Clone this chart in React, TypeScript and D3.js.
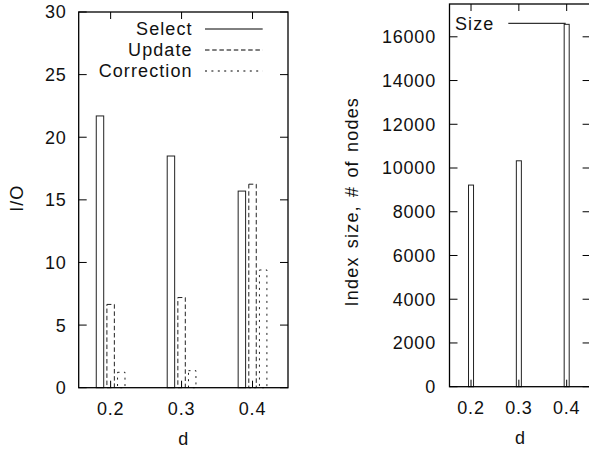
import React from "react";
import * as d3 from "d3";

const categories = [0.2, 0.3, 0.4];
const selectIO = [21.7, 18.5, 15.7];
const updateIO = [6.65, 7.2, 16.25];
const correctionIO = [1.23, 1.36, 9.4];
const indexSize = [9220, 10330, 16570];
const leftYTicks = [0, 5, 10, 15, 20, 25, 30];
const rightYTicks = [0, 2000, 4000, 6000, 8000, 10000, 12000, 14000, 16000];
const seriesNames = ["Select", "Update", "Correction"];

const FONT = "'Liberation Sans', Arial, Helvetica, sans-serif";
const FS = 18;
const LS = 1.1;
const TLS = 0.8;
const DASHES = [null, "4.5,2.7", "2,4.4"];
const INK = "#111";

function Frame({ x, y, yt, ytickFmt, xt, labelX }: any) {
  const [x0, x1] = x.range();
  const [yb, ytop] = y.range();
  return (
    <g>
      <rect x={x0} y={ytop} width={x1 - x0} height={yb - ytop} fill="none" stroke="#000" strokeWidth={1.3} />
      {yt.map((t: number) => (
        <g key={"y" + t}>
          <line x1={x0} x2={x0 + 8} y1={y(t)} y2={y(t)} stroke="#000" />
          <line x1={x1} x2={x1 - 8} y1={y(t)} y2={y(t)} stroke="#000" />
          <text x={labelX} y={y(t)} dy="0.36em" textAnchor="end" fontFamily={FONT} fontSize={FS} letterSpacing={TLS} fill={INK}>
            {ytickFmt(t)}
          </text>
        </g>
      ))}
      {xt.map((t: number) => (
        <g key={"x" + t}>
          <line x1={x(t)} x2={x(t)} y1={yb} y2={yb - 7} stroke="#000" />
          <line x1={x(t)} x2={x(t)} y1={ytop} y2={ytop + 7} stroke="#000" />
          <text x={x(t)} y={yb + 21} dy="0.36em" textAnchor="middle" fontFamily={FONT} fontSize={FS} letterSpacing={TLS} fill={INK}>
            {d3.format(".1f")(t)}
          </text>
        </g>
      ))}
      <text x={(x0 + x1) / 2} y={yb + 51} dy="0.36em" textAnchor="middle" fontFamily={FONT} fontSize={FS} fill={INK}>
        d
      </text>
    </g>
  );
}

export default function App() {
  const xL = d3.scaleLinear().domain([0.155, 0.45]).range([78.7, 288]);
  const yL = d3.scaleLinear().domain([0, 30]).range([387.7, 12]);
  const xR = d3.scaleLinear().domain([0.155, 0.45]).range([449.5, 590.6]);
  const yR = d3.scaleLinear().domain([0, 17500]).range([386.7, 4]);

  const series = [selectIO, updateIO, correctionIO];
  const offsets = [-0.015, 0, 0.015];
  const bw = 0.0105;

  return (
    <svg width={589} height={454} style={{ display: "block", position: "absolute", left: 0, top: 0 }}>
      <rect width={589} height={454} fill="#fff" />
      {series.map((vals, si) =>
        vals.map((v, i) => {
          const cx = categories[i] + offsets[si];
          const xa = xL(cx - bw / 2);
          const xb = xL(cx + bw / 2);
          return (
            <rect
              key={si + "-" + i}
              x={xa}
              y={yL(v)}
              width={xb - xa}
              height={yL(0) - yL(v)}
              fill="none"
              stroke="#222"
              strokeWidth={1}
              strokeDasharray={DASHES[si] || undefined}
            />
          );
        })
      )}
      <Frame x={xL} y={yL} yt={leftYTicks} ytickFmt={(t: number) => String(t)} xt={categories} labelX={66.5} />
      {seriesNames.map((n, i) => {
        const ly = 29 + i * 21;
        return (
          <g key={n}>
            <text x={192.7} y={ly} dy="0.36em" textAnchor="end" fontFamily={FONT} fontSize={FS} letterSpacing={LS} fill={INK}>
              {n}
            </text>
            <line x1={205} x2={262.7} y1={ly} y2={ly} stroke="#000" strokeDasharray={DASHES[i] || undefined} />
          </g>
        );
      })}
      <text
        transform={`translate(16.3,198.3) rotate(-90)`}
        dy="0.36em"
        textAnchor="middle"
        fontFamily={FONT}
        fontSize={FS}
        letterSpacing={1}
        fill={INK}
      >
        I/O
      </text>

      {indexSize.map((v, i) => {
        const xa = xR(categories[i] - bw / 2);
        const xb = xR(categories[i] + bw / 2);
        return (
          <rect key={"s" + i} x={xa} y={yR(v)} width={xb - xa} height={yR(0) - yR(v)} fill="none" stroke="#222" strokeWidth={1} />
        );
      })}
      <Frame x={xR} y={yR} yt={rightYTicks} ytickFmt={(t: number) => String(t)} xt={categories} labelX={436} />
      <text x={455} y={23.3} dy="0.36em" textAnchor="start" fontFamily={FONT} fontSize={FS} letterSpacing={LS} fill={INK}>
        Size
      </text>
      <line x1={508.3} x2={565.7} y1={23.3} y2={23.3} stroke="#000" />
      <text
        transform={`translate(351.7,201.7) rotate(-90)`}
        dy="0.36em"
        textAnchor="middle"
        fontFamily={FONT}
        fontSize={FS}
        letterSpacing={1.2}
        wordSpacing={2}
        fill={INK}
      >
        Index size, # of nodes
      </text>
    </svg>
  );
}
